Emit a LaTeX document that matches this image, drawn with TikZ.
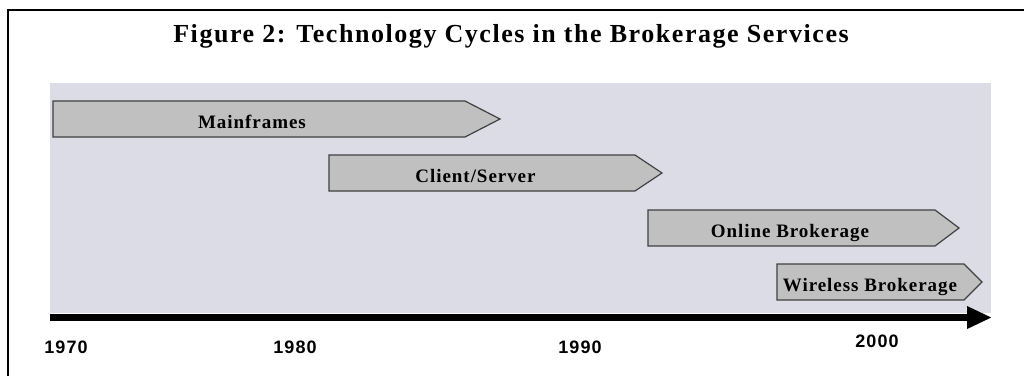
\documentclass[tikz,border=0pt]{standalone}
\usepackage{fontspec}
\usetikzlibrary{arrows.meta}
\newfontfamily\titlefont[LetterSpace=6]{Liberation Serif}
\newfontfamily\lblfont[LetterSpace=5]{Liberation Serif}
\newfontfamily\yearfont[LetterSpace=6]{Liberation Sans}
\definecolor{lav}{RGB}{220,220,231}
\definecolor{stagefill}{RGB}{192,192,192}
\definecolor{stageline}{RGB}{64,64,64}
\tikzset{
  stage/.style={fill=stagefill,draw=stageline,line width=1.2pt,line join=miter},
  stagelbl/.style={anchor=base,inner sep=0pt,font=\lblfont\bfseries\fontsize{19}{21}\selectfont},
  yearlbl/.style={anchor=base,inner sep=0pt,font=\yearfont\bfseries\fontsize{18}{20}\selectfont},
  axis/.style={line width=7pt,-{Triangle[length=25pt,width=21pt]}}
}
\begin{document}
\begin{tikzpicture}[x=1pt,y=-1pt]
\useasboundingbox (0,0) rectangle (1024,376);
\fill[white] (0,0) rectangle (1024,376);
% frame
\draw[line width=1.3pt] (1024,10) -- (8,10) -- (8,376);
% title
\node[anchor=base,inner sep=0pt,font=\titlefont\bfseries\fontsize{26}{28}\selectfont] (title) at (511,42) {Figure 2: Technology Cycles in the Brokerage Services};
% panel
\fill[lav] (50,83) rectangle (991,313);
% stages
\draw[stage] (53,101) -- (465,101) -- (500,119) -- (465,137) -- (53,137) -- cycle;
\node[stagelbl] (mainframes) at (252,128) {Mainframes};
\draw[stage] (329,155) -- (635,155) -- (662,173) -- (635,191) -- (329,191) -- cycle;
\node[stagelbl] (client) at (475.5,182) {Client/Server};
\draw[stage] (648,210) -- (935,210) -- (959,228) -- (935,246) -- (648,246) -- cycle;
\node[stagelbl] (online) at (790,237) {Online Brokerage};
\draw[stage] (777,264) -- (964,264) -- (982,282) -- (964,300) -- (777,300) -- cycle;
\node[stagelbl] (wireless) at (870,291) {Wireless Brokerage};
% axis
\coordinate (axisstart) at (50,317.5);
\coordinate (axisend) at (992,317.5);
\draw[axis] (axisstart) -- (axisend);
% years
\node[yearlbl] (y1970) at (66,353) {1970};
\node[yearlbl] (y1980) at (295,353) {1980};
\node[yearlbl] (y1990) at (580,353) {1990};
\node[yearlbl] (y2000) at (877,347) {2000};
\end{tikzpicture}
\end{document}
